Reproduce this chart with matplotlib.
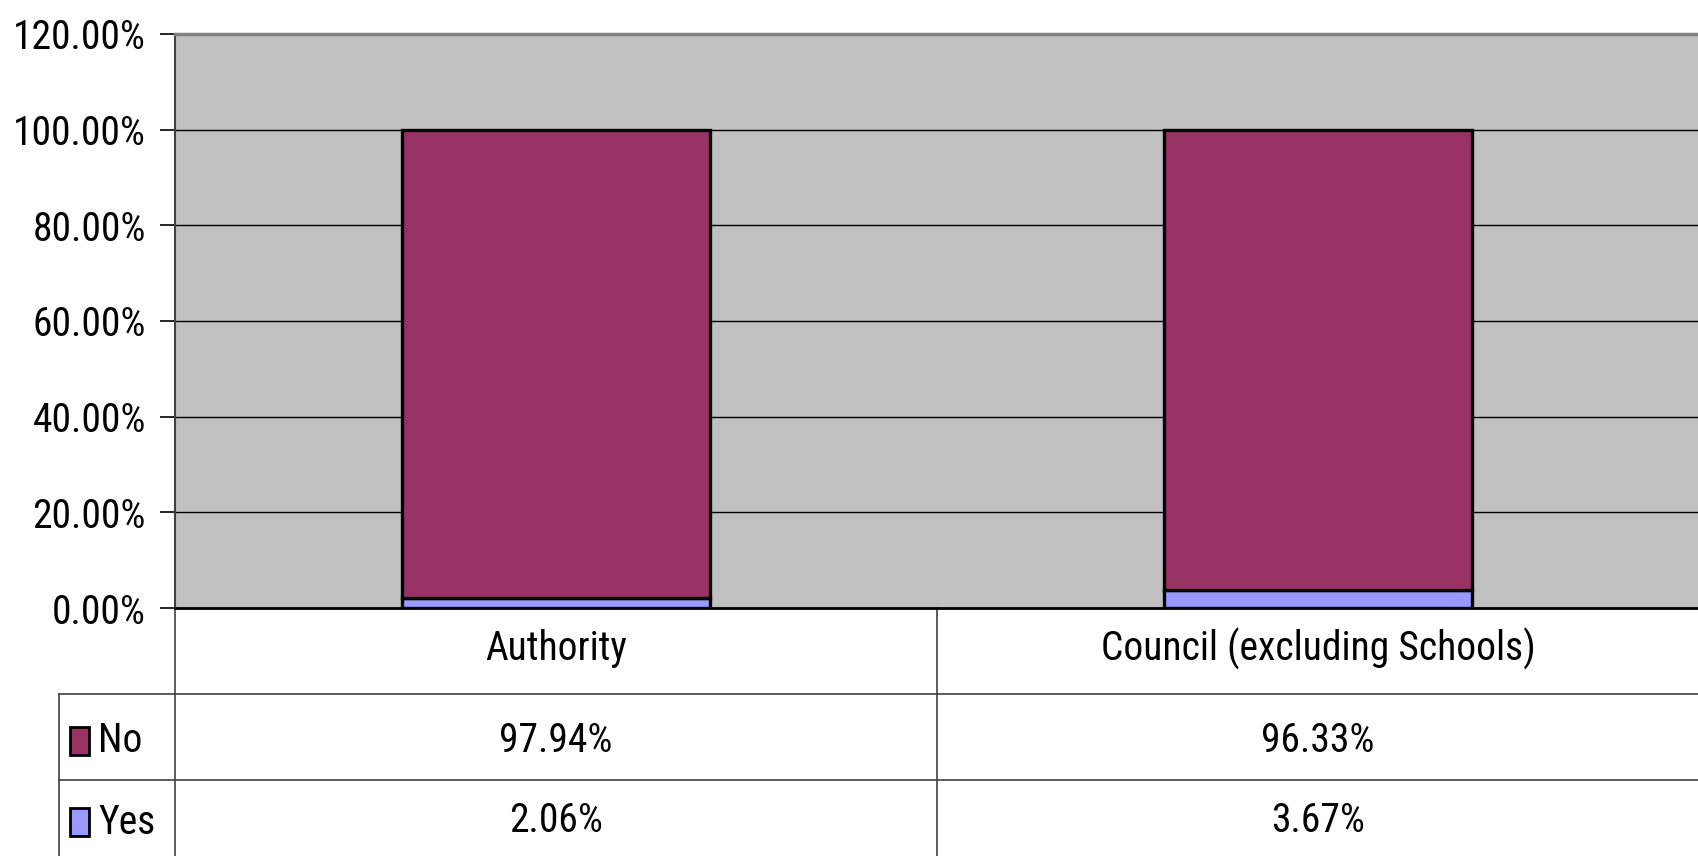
import matplotlib
matplotlib.use("Agg")
import matplotlib.pyplot as plt
from matplotlib import font_manager
from matplotlib.patches import Rectangle
from matplotlib.lines import Line2D
from matplotlib.transforms import blended_transform_factory

# data
categories = ["Authority", "Council (excluding Schools)"]
series = ["No", "Yes"]
no_vals = [97.94, 96.33]
yes_vals = [2.06, 3.67]
colors = {"No": "#993366", "Yes": "#9999FF"}

# pick a narrow font (the original looks like Arial Narrow)
names = sorted({f.name for f in font_manager.fontManager.ttflist})
preferred = ["Liberation Sans Narrow", "Arial Narrow", "Roboto Condensed", "Open Sans Condensed"]
narrow = [n for n in preferred if n in names] + \
         [n for n in names if "Narrow" in n or "Condensed" in n]
family = narrow[0] if narrow else "Liberation Sans"
plt.rcParams["font.family"] = [family, "DejaVu Sans"]

W, H = 1699, 856
fig = plt.figure(figsize=(W / 100, H / 100), dpi=100)

# scale the font so the long category label is ~434 px wide, like the original
probe = fig.text(0, 0, categories[1], fontsize=30)
w = probe.get_window_extent(renderer=fig.canvas.get_renderer()).width
probe.remove()
FS = 30 * 434 / w

# main plot area in pixel coordinates
left, right, top, bottom = 175, 1699, 34, 608
ax = fig.add_axes([left / W, 1 - bottom / H, (right - left) / W, (bottom - top) / H])
ax.set_facecolor("#C0C0C0")

x = range(len(categories))
ax.bar(x, yes_vals, width=0.404, color=colors["Yes"], edgecolor="black", linewidth=2.4, zorder=3)
ax.bar(x, no_vals, width=0.404, bottom=yes_vals, color=colors["No"], edgecolor="black",
       linewidth=2.4, zorder=3)

ax.set_xlim(-0.5, len(categories) - 0.5)
ax.set_ylim(0, 120)
ax.set_yticks(range(0, 121, 20))
ax.set_yticklabels([f"{v:.2f}%" for v in range(0, 121, 20)], fontsize=FS)
ax.yaxis.grid(True, color="black", linewidth=1)
ax.set_axisbelow(True)
ax.tick_params(axis="y", length=11, width=1.2, pad=10)
ax.tick_params(axis="x", bottom=False, labelbottom=False)
ax.spines["right"].set_visible(False)
ax.spines["top"].set_color("#808080")
ax.spines["top"].set_linewidth(2.5)
ax.spines["left"].set_color("#404040")
ax.spines["left"].set_linewidth(1.5)
ax.spines["bottom"].set_linewidth(2)

# data table below the plot
ph = bottom - top
pw = right - left


def ay(py):
    return -(py - bottom) / ph


def axx(px):
    return (px - left) / pw


bt = blended_transform_factory(ax.transData, ax.transAxes)
line_kw = dict(transform=ax.transAxes, color="#404040", linewidth=1.2, clip_on=False)

ax.add_line(Line2D([axx(59), axx(1699)], [ay(694)] * 2, **line_kw))
ax.add_line(Line2D([axx(59), axx(1699)], [ay(780)] * 2, **line_kw))
ax.add_line(Line2D([axx(59), axx(59)], [ay(694), ay(856)], **line_kw))
ax.add_line(Line2D([0, 0], [0, ay(856)], **line_kw))
ax.add_line(Line2D([0.5, 0.5], [0, ay(856)], **line_kw))

for i, cat in enumerate(categories):
    ax.text(i, ay(649), cat, transform=bt, ha="center", va="center", fontsize=FS, clip_on=False)
    ax.text(i, ay(740), f"{no_vals[i]:.2f}%", transform=bt, ha="center", va="center",
            fontsize=FS, clip_on=False)
    ax.text(i, ay(821), f"{yes_vals[i]:.2f}%", transform=bt, ha="center", va="center",
            fontsize=FS, clip_on=False)

for name, yc in zip(series, [741, 822]):
    ax.add_patch(Rectangle((axx(70), ay(yc + 14)), axx(89) - axx(70), ay(yc - 14) - ay(yc + 14),
                           transform=ax.transAxes, facecolor=colors[name], edgecolor="black",
                           linewidth=2, clip_on=False))
    ax.text(axx(98), ay(yc), name, transform=ax.transAxes, ha="left", va="center",
            fontsize=FS, clip_on=False)

fig.savefig("out.png", dpi=100)
